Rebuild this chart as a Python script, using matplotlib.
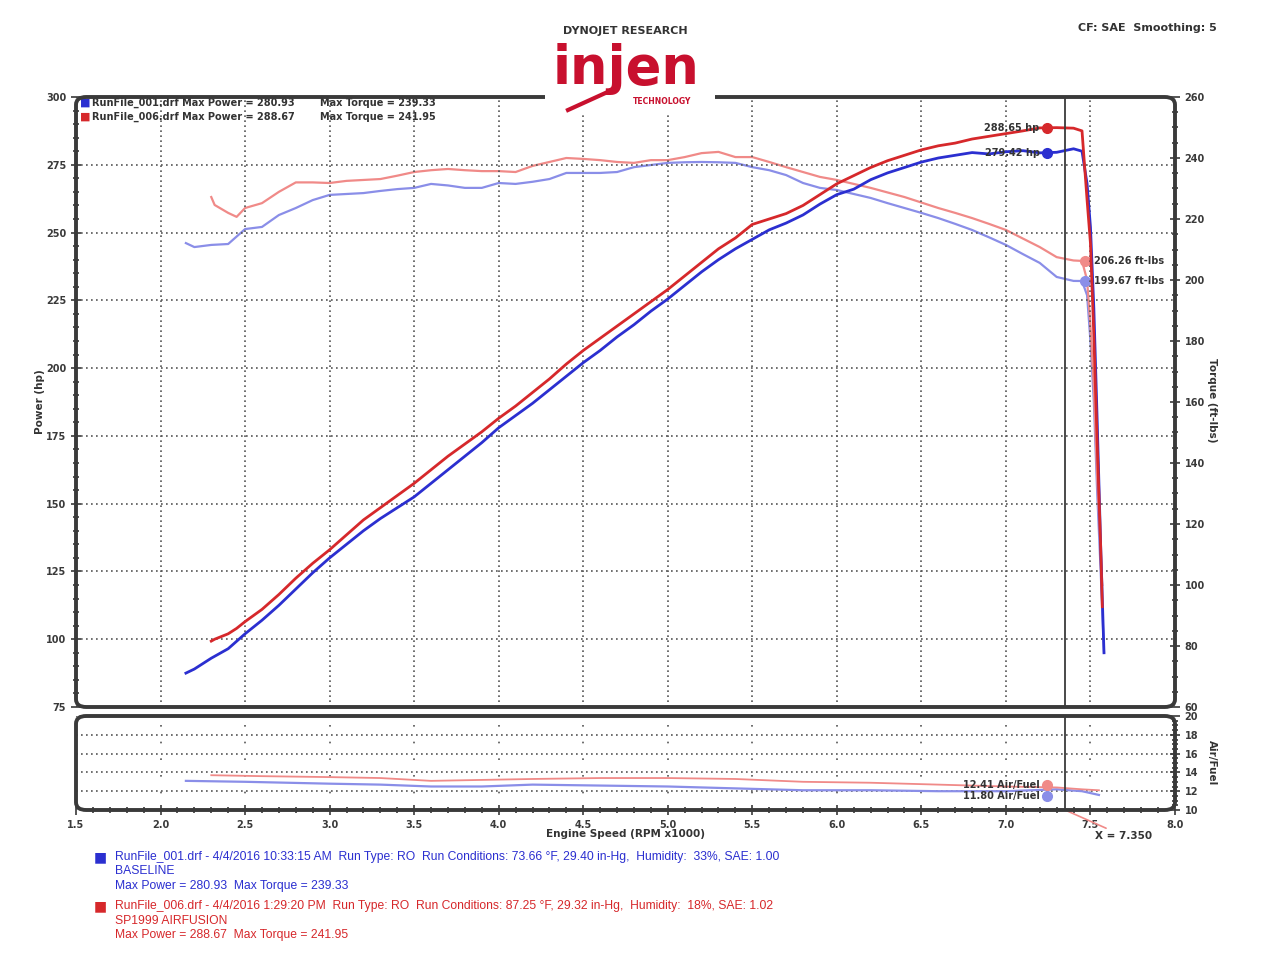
import matplotlib
matplotlib.use("Agg")
from matplotlib import pyplot as plt
from matplotlib.patches import FancyBboxPatch, Rectangle
from matplotlib.ticker import MultipleLocator

# ---- data ----
rpm_base = [2.15, 2.2, 2.3, 2.4, 2.5, 2.6, 2.7, 2.8, 2.9, 3.0, 3.1, 3.2, 3.3, 3.4, 3.5, 3.6, 3.7, 3.8, 3.9,
            4.0, 4.1, 4.2, 4.3, 4.4, 4.5, 4.6, 4.7, 4.8, 4.9, 5.0, 5.1, 5.2, 5.3, 5.4, 5.5, 5.6, 5.7, 5.8,
            5.9, 6.0, 6.1, 6.2, 6.3, 6.4, 6.5, 6.6, 6.7, 6.8, 6.9, 7.0, 7.1, 7.2, 7.3, 7.4, 7.45, 7.48,
            7.5, 7.52, 7.54, 7.56, 7.58]
hp_base = [87.5, 89, 93, 96.5, 102, 107, 112.5, 118.5, 124.5, 130, 135, 140, 144.5, 148.5, 152.5, 157.5,
           162.5, 167.5, 172.5, 178, 182.5, 187, 192, 197, 202, 206.5, 211.5, 216, 221, 225.5, 230.5,
           235.5, 240, 244, 247.5, 251, 253.5, 256.5, 260.5, 264, 266, 269.5, 272, 274, 276, 277.5,
           278.5, 279.5, 279, 279.8, 280.2, 279.4, 279.6, 280.9, 280, 268, 252, 222, 180, 135, 95]
tq_base = [212.1, 210.8, 211.5, 211.8, 216.7, 217.4, 221.3, 223.6, 226.2, 227.9, 228.2, 228.5, 229.2,
           229.8, 230.2, 231.5, 231.0, 230.2, 230.2, 231.8, 231.5, 232.2, 233.1, 235.1, 235.1, 235.1,
           235.4, 237.0, 237.7, 238.4, 238.6, 238.7, 238.6, 238.4, 237.0, 236.0, 234.4, 231.8, 230.2,
           229.5, 228.2, 226.9, 225.2, 223.6, 222.0, 220.3, 218.4, 216.4, 214.0, 211.5, 208.5, 205.6,
           201.0, 199.7, 199.67, 195, 180, 160, 130, 105, 78]

rpm_mod = [2.3, 2.32, 2.4, 2.45, 2.5, 2.6, 2.7, 2.8, 2.9, 3.0, 3.1, 3.2, 3.3, 3.4, 3.5, 3.6, 3.7, 3.8, 3.9,
           4.0, 4.1, 4.2, 4.3, 4.4, 4.5, 4.6, 4.7, 4.8, 4.9, 5.0, 5.1, 5.2, 5.3, 5.4, 5.5, 5.6, 5.7, 5.8,
           5.9, 6.0, 6.1, 6.2, 6.3, 6.4, 6.5, 6.6, 6.7, 6.8, 6.9, 7.0, 7.1, 7.2, 7.3, 7.4, 7.45, 7.48,
           7.5, 7.52, 7.54, 7.56, 7.57]
hp_mod = [99.3, 100, 102, 104, 106.5, 111, 116.5, 122.5, 128, 133, 138.5, 144, 148.5, 153, 157.5, 162.5,
          167.5, 172, 176.5, 181.5, 186, 191, 196, 201.5, 206.5, 211, 215.5, 220, 224.5, 229, 234, 239,
          244, 248, 253, 255, 257, 260, 264, 268, 271, 274, 276.5, 278.5, 280.5, 282, 283, 284.5, 285.5,
          286.5, 287.5, 288.6, 288.7, 288.5, 287.5, 262, 246, 212, 172, 135, 112]
tq_mod = [227.2, 224.6, 222.0, 220.7, 223.6, 225.2, 228.9, 232.0, 232.0, 231.8, 232.5, 232.8, 233.1,
          234.2, 235.4, 236.0, 236.4, 236.0, 235.7, 235.7, 235.4, 237.4, 238.7, 240.0, 239.7, 239.3,
          238.7, 238.4, 239.3, 239.3, 240.3, 241.6, 242.0, 240.3, 240.3, 238.7, 237.0, 235.4, 233.8,
          232.8, 231.5, 230.2, 228.7, 227.2, 225.4, 223.6, 222.0, 220.3, 218.4, 216.4, 213.6, 210.8,
          207.5, 206.4, 206.26, 200, 185, 165, 135, 112, 100]

afr_rpm_base = [2.15, 2.5, 3.0, 3.3, 3.6, 3.9, 4.2, 4.6, 5.0, 5.4, 5.8, 6.2, 6.6, 7.0, 7.3, 7.45, 7.55]
afr_base = [13.1, 13.0, 12.8, 12.7, 12.5, 12.5, 12.7, 12.6, 12.5, 12.3, 12.1, 12.1, 12.0, 12.0, 12.2, 12.0, 11.6]
afr_rpm_mod = [2.3, 2.6, 3.0, 3.3, 3.6, 3.9, 4.2, 4.6, 5.0, 5.4, 5.8, 6.2, 6.6, 7.0, 7.3, 7.45, 7.55]
afr_mod = [13.7, 13.6, 13.5, 13.4, 13.1, 13.2, 13.3, 13.4, 13.4, 13.3, 13.0, 12.9, 12.7, 12.5, 12.4, 12.2, 12.1]

cursor_x = 7.35

blue = "#2b2fd0"
red = "#d6282b"
lblue = "#8a8ee8"
lred = "#f08a88"
frame = "#3a3a3a"
gridc = "#555555"

fig = plt.figure(figsize=(12.79, 9.6), dpi=100)
W, H = 1279, 960


def fpos(x0, y0, x1, y1):
    return [x0 / W, 1 - y1 / H, (x1 - x0) / W, (y1 - y0) / H]


ax = fig.add_axes(fpos(76, 97, 1175, 707))
axt = ax.twinx()
afr = fig.add_axes(fpos(76, 716, 1175, 810))

for a in (ax, axt, afr):
    for s in a.spines.values():
        s.set_visible(False)

# rounded frames like the dyno software
for a in (ax, afr):
    bb = a.get_position()
    fig.patches.append(FancyBboxPatch((bb.x0, bb.y0), bb.width, bb.height,
                                      boxstyle="round,pad=0,rounding_size=0.008",
                                      transform=fig.transFigure, fc="none", ec=frame, lw=2.8,
                                      zorder=5))

tick_kw = dict(labelsize=7, colors=frame, direction="inout")

# main power axes
ax.set_xlim(1.5, 8.0)
ax.set_ylim(75, 300)
ax.yaxis.set_major_locator(MultipleLocator(25))
ax.yaxis.set_minor_locator(MultipleLocator(5))
ax.xaxis.set_major_locator(MultipleLocator(0.5))
ax.tick_params(axis="y", which="major", length=7, width=1.2, **tick_kw)
ax.tick_params(axis="y", which="minor", length=5, width=1.2, direction="inout", colors=frame)
ax.tick_params(axis="x", which="both", length=0, labelbottom=False)
for lab in ax.get_yticklabels():
    lab.set_fontweight("bold")
ax.grid(True, which="major", color=gridc, linestyle=(0, (1, 2)), lw=1.2)

axt.set_ylim(60, 260)
axt.yaxis.set_major_locator(MultipleLocator(20))
axt.yaxis.set_minor_locator(MultipleLocator(5))
axt.tick_params(axis="y", which="major", length=7, width=1.2, **tick_kw)
axt.tick_params(axis="y", which="minor", length=5, width=1.2, direction="inout", colors=frame)
for lab in axt.get_yticklabels():
    lab.set_fontweight("bold")

axt.plot(rpm_base, tq_base, color=lblue, lw=1.6, zorder=2)
axt.plot(rpm_mod, tq_mod, color=lred, lw=1.6, zorder=2)
ax.set_zorder(axt.get_zorder() + 1)
ax.patch.set_visible(False)
ax.plot(rpm_base, hp_base, color=blue, lw=2.0, zorder=3)
ax.plot(rpm_mod, hp_mod, color=red, lw=2.0, zorder=3)

ax.axvline(cursor_x, color=frame, lw=1.3, zorder=4)

# cursor readouts
ax.plot([7.24], [288.65], "o", color=red, ms=7, zorder=6)
ax.plot([7.24], [279.42], "o", color=blue, ms=7, zorder=6)
ax.text(7.20, 288.65, "288.65 hp", ha="right", va="center", fontsize=7, fontweight="bold", color="#333")
ax.text(7.20, 279.42, "279.42 hp", ha="right", va="center", fontsize=7, fontweight="bold", color="#333")
axt.plot([7.47], [206.3], "o", color=lred, ms=7, zorder=6)
axt.plot([7.47], [199.7], "o", color=lblue, ms=7, zorder=6)
axt.text(7.52, 206.3, "206.26 ft-lbs", ha="left", va="center", fontsize=7, fontweight="bold", color="#333")
axt.text(7.52, 199.7, "199.67 ft-lbs", ha="left", va="center", fontsize=7, fontweight="bold", color="#333")

# run legend inside plot
leg_rows = [("RunFile_001.drf Max Power = 280.93", "Max Torque = 239.33", blue, 103),
            ("RunFile_006.drf Max Power = 288.67", "Max Torque = 241.95", red, 117)]
for left, right, c, py in leg_rows:
    fig.text(80 / W, 1 - py / H, "\u25A0", color=c, fontsize=8, va="center")
    fig.text(92 / W, 1 - py / H, left, fontsize=7, fontweight="bold", color="#333", va="center")
    fig.text(320 / W, 1 - py / H, right, fontsize=7, fontweight="bold", color="#333", va="center")

# air/fuel panel
afr.set_xlim(1.5, 8.0)
afr.set_ylim(10, 20)
afr.yaxis.tick_right()
afr.yaxis.set_major_locator(MultipleLocator(2))
afr.yaxis.set_minor_locator(MultipleLocator(0.5))
afr.xaxis.set_major_locator(MultipleLocator(0.5))
afr.xaxis.set_minor_locator(MultipleLocator(0.1))
afr.tick_params(axis="both", which="major", length=7, width=1.2, **tick_kw)
afr.tick_params(axis="both", which="minor", length=5, width=1.2, direction="inout", colors=frame)
afr.xaxis.set_major_formatter(matplotlib.ticker.FormatStrFormatter("%.1f"))
for lab in afr.get_yticklabels() + afr.get_xticklabels():
    lab.set_fontweight("bold")
afr.grid(True, axis="y", which="major", color=gridc, linestyle=(0, (1, 2)), lw=1.2)
afr.grid(True, axis="x", which="major", color=gridc, linestyle=(0, (1, 9)), lw=1.2)
afr.plot(afr_rpm_base, afr_base, color=lblue, lw=1.6)
afr.plot(afr_rpm_mod, afr_mod, color=lred, lw=1.3)
afr.axvline(cursor_x, color=frame, lw=1.3)
afr.plot([7.24], [12.7], "o", color=lred, ms=7, zorder=6)
afr.plot([7.24], [11.45], "o", color=lblue, ms=7, zorder=6)
afr.text(7.20, 12.7, "12.41 Air/Fuel", ha="right", va="center", fontsize=7, fontweight="bold", color="#333")
afr.text(7.20, 11.45, "11.80 Air/Fuel", ha="right", va="center", fontsize=7, fontweight="bold", color="#333")

afr.annotate("X = 7.350", xy=(cursor_x, 10), xycoords="data",
             xytext=(1095 / W, 1 - 836 / H), textcoords="figure fraction",
             fontsize=7.5, fontweight="bold", color="#333", va="center", ha="left",
             arrowprops=dict(arrowstyle="-", color=lred, lw=1.2, shrinkA=0, shrinkB=0),
             annotation_clip=False)

# axis titles
fig.text(40 / W, 1 - 402 / H, "Power (hp)", rotation=90, ha="center", va="center",
         fontsize=7.5, fontweight="bold", color="#333")
fig.text(1212 / W, 1 - 400 / H, "Torque (ft-lbs)", rotation=270, ha="center", va="center",
         fontsize=7.5, fontweight="bold", color="#333")
fig.text(1212 / W, 1 - 763 / H, "Air/Fuel", rotation=270, ha="center", va="center",
         fontsize=7.5, fontweight="bold", color="#333")
fig.text(625 / W, 1 - 834 / H, "Engine Speed (RPM x1000)", ha="center", va="center",
         fontsize=7.5, fontweight="bold", color="#333")

# header
fig.text(625 / W, 1 - 31 / H, "DYNOJET RESEARCH", ha="center", va="center",
         fontsize=8, fontweight="bold", color="#333")
fig.text(1217 / W, 1 - 28 / H, "CF: SAE  Smoothing: 5", ha="right", va="center",
         fontsize=8, fontweight="bold", color="#333")
logo = "#c8102e"
# white patch that cuts the top frame behind the logo
fig.patches.append(Rectangle((545 / W, 1 - 112 / H), 170 / W, 70 / H, transform=fig.transFigure,
                             fc="white", ec="none", zorder=9))
fig.text(626 / W, 1 - 84 / H, "injen", ha="center", va="baseline", fontsize=38,
         fontweight="bold", color=logo, zorder=10)
fig.text(662 / W, 1 - 102 / H, "TECHNOLOGY", ha="center", va="center", fontsize=5.5,
         fontweight="bold", color=logo, zorder=11)
fig.add_artist(matplotlib.lines.Line2D([568 / W, 612 / W], [1 - 110 / H, 1 - 90 / H],
                                       color=logo, lw=3, zorder=12))

# run details below chart
runs = [
    (blue, 857, ["RunFile_001.drf - 4/4/2016 10:33:15 AM  Run Type: RO  Run Conditions: 73.66 \u00b0F, 29.40 in-Hg,  Humidity:  33%, SAE: 1.00",
                 "BASELINE",
                 "Max Power = 280.93  Max Torque = 239.33"]),
    (red, 906, ["RunFile_006.drf - 4/4/2016 1:29:20 PM  Run Type: RO  Run Conditions: 87.25 \u00b0F, 29.32 in-Hg,  Humidity:  18%, SAE: 1.02",
                "SP1999 AIRFUSION",
                "Max Power = 288.67  Max Torque = 241.95"]),
]
for c, py, lines in runs:
    fig.text(94 / W, 1 - py / H, "\u25A0", color=c, fontsize=10, va="center")
    for i, line in enumerate(lines):
        fig.text(115 / W, 1 - (py + i * 14.5) / H, line, color=c, fontsize=8.7,
                 family="Liberation Sans", va="center")

fig.savefig("out.png", dpi=100, facecolor="white")
